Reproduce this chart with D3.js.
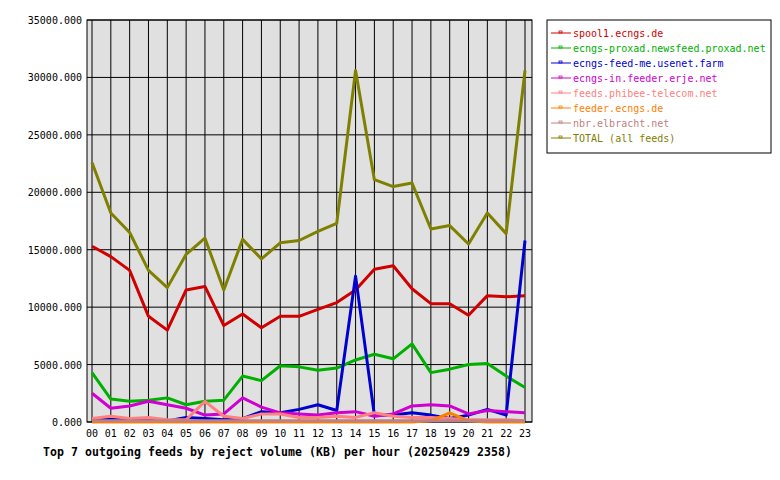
<!DOCTYPE html>
<html><head><meta charset="utf-8">
<script src="https://cdn.jsdelivr.net/npm/d3@7"></script>
<style>body{margin:0;background:#fff}text{font-family:"DejaVu Sans Mono",monospace;font-size:10px}</style>
</head><body><div id="chart"></div>
<script>
const hours = ["00","01","02","03","04","05","06","07","08","09","10","11","12","13","14","15","16","17","18","19","20","21","22","23"];
const feedNames = ["spool1.ecngs.de","ecngs-proxad.newsfeed.proxad.net","ecngs-feed-me.usenet.farm","ecngs-in.feeder.erje.net","feeds.phibee-telecom.net","feeder.ecngs.de","nbr.elbracht.net","TOTAL (all feeds)"];
const feedColors = ["#d00000","#00b000","#0000d0","#d000d0","#ff8080","#ff8000","#c08080","#808000"];
const spool1 = [15300,14400,13200,9200,8000,11500,11800,8400,9400,8200,9200,9200,9800,10400,11500,13300,13600,11600,10300,10300,9300,11000,10900,11000];
const proxad = [4300,2000,1800,1900,2100,1500,1800,1900,4000,3600,4900,4800,4500,4700,5400,5900,5500,6800,4300,4600,5000,5100,4000,3000];
const usenetFarm = [200,300,200,200,100,400,300,200,300,900,800,1100,1500,1000,12700,600,600,800,600,300,600,1100,600,15800];
const erje = [2500,1200,1400,1800,1500,1200,600,700,2100,1300,800,700,600,800,900,500,700,1400,1500,1400,700,1000,900,800];
const phibee = [300,500,300,400,200,200,1800,500,300,700,700,400,400,500,400,800,500,400,400,300,200,200,200,100];
const feederEcngs = [0,0,0,0,0,0,0,0,0,0,0,0,0,0,0,0,0,0,100,800,100,0,0,0];
const elbracht = [100,100,100,100,100,100,100,100,100,100,100,100,100,100,100,100,100,100,100,100,100,100,100,100];
const total = [22600,18200,16500,13200,11700,14600,16000,11500,15900,14200,15600,15800,16600,17300,30600,21100,20500,20800,16800,17100,15500,18200,16400,30600];
const yTicks = [0,5000,10000,15000,20000,25000,30000,35000];
const series = [spool1,proxad,usenetFarm,erje,phibee,feederEcngs,elbracht,total];

const svg = d3.select("#chart").append("svg").attr("width",780).attr("height",480);
const L = 87, R = 532, T = 20, B = 422;
svg.append("rect").attr("x",L).attr("y",T).attr("width",R-L).attr("height",B-T).attr("fill","#e0e0e0");

const x = d3.scalePoint().domain(hours).range([L+5,R-7]);
const y = d3.scaleLinear().domain([0,35000]).range([B,T]);

// grid
svg.append("g").selectAll("line").data(hours).join("line")
  .attr("x1",d=>x(d)).attr("x2",d=>x(d)).attr("y1",T).attr("y2",B).attr("stroke","#000");
svg.append("g").selectAll("line").data(yTicks).join("line")
  .attr("x1",L).attr("x2",R).attr("y1",d=>y(d)).attr("y2",d=>y(d)).attr("stroke","#000");
svg.append("rect").attr("x",L).attr("y",T).attr("width",R-L).attr("height",B-T).attr("fill","none").attr("stroke","#000");

svg.append("g").selectAll("text").data(yTicks).join("text")
  .attr("x",L-5).attr("y",d=>y(d)+4).attr("text-anchor","end").text(d=>d+".000");
svg.append("g").selectAll("text").data(hours).join("text")
  .attr("x",d=>x(d)).attr("y",B+15).attr("text-anchor","middle").text(d=>d);

const line = d3.line().x((d,i)=>x(hours[i])).y(d=>y(d));
series.forEach((s,k)=>{
  svg.append("path").datum(s).attr("d",line).attr("fill","none")
    .attr("stroke",feedColors[k]).attr("stroke-width",3).attr("stroke-linejoin","round");
});

// legend
const lg = svg.append("g");
lg.append("rect").attr("x",547).attr("y",20).attr("width",224).attr("height",133).attr("fill","#fff").attr("stroke","#000");
feedNames.forEach((n,i)=>{
  const yy = 33 + i*15;
  lg.append("line").attr("x1",551).attr("x2",571).attr("y1",yy).attr("y2",yy).attr("stroke",feedColors[i]);
  lg.append("rect").attr("x",559).attr("y",yy-2).attr("width",3).attr("height",2).attr("fill","none").attr("stroke",feedColors[i]).attr("stroke-width",0.8);
  lg.append("text").attr("x",573).attr("y",yy+4).attr("fill",feedColors[i]).text(n);
});

svg.append("text").attr("x",43).attr("y",456).attr("font-weight","bold").style("font-size","11.5px")
  .attr("textLength",469).attr("lengthAdjust","spacing")
  .text("Top 7 outgoing feeds by reject volume (KB) per hour (20250429 2358)");
</script></body></html>
